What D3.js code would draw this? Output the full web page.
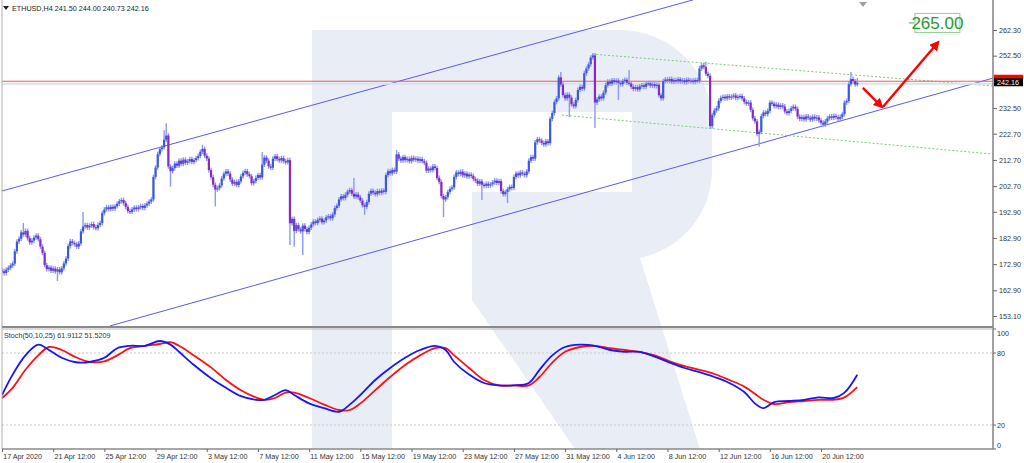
<!DOCTYPE html>
<html><head><meta charset="utf-8">
<script src="https://cdn.jsdelivr.net/npm/d3@7"></script>
<style>
body{margin:0;background:#fff;overflow:hidden}
text{font-family:"Liberation Sans",Arial,sans-serif}
</style>
</head><body>
<svg id="c" width="1024" height="463"></svg>
<script>
// ---------- DATA ----------
const symbolTitle = "ETHUSD,H4  241.50 244.00 240.73 242.16";
const stochTitle = "Stoch(50,10,25) 61.9112 51.5209";
const firstOpen = 170.6;
const closes = [
170.2,169.5,170.8,171.5,172.4,173.1,177.8,181.5,182.6,185.0,184.2,185.6,182.8,181.2,181.9,183.1,183.8,182.4,179.6,177.2,
172.5,171.0,171.6,170.4,171.2,170.1,170.9,169.8,171.3,173.2,175.0,179.8,181.6,181.0,180.5,179.6,180.8,185.4,187.3,187.8,
186.9,187.6,188.2,187.0,186.6,187.9,188.6,192.4,193.8,194.6,193.9,194.8,194.1,195.0,196.0,196.9,197.4,196.2,194.8,193.2,
192.9,193.8,194.5,193.9,194.6,195.1,194.4,195.3,196.0,196.8,197.6,206.2,209.8,214.9,216.8,217.5,220.4,222.0,210.2,208.4,
209.6,211.3,210.5,212.4,211.2,212.8,211.6,212.2,213.0,211.9,212.6,213.4,214.2,215.8,216.9,214.3,213.2,208.8,206.1,203.2,
201.4,201.9,203.0,205.6,207.4,208.3,207.5,205.2,203.6,204.3,203.1,204.5,206.4,207.8,208.4,207.2,206.5,203.8,204.6,205.8,
206.9,206.0,210.9,213.6,212.4,210.2,209.7,213.2,214.1,213.0,212.5,213.4,212.2,211.8,212.6,188.5,190.2,185.6,187.8,186.2,
185.4,187.6,186.3,185.2,186.8,188.1,189.2,188.6,189.8,190.3,188.9,189.6,190.8,191.2,190.4,191.9,194.3,195.2,197.6,198.8,
198.1,199.4,200.6,201.2,199.8,198.7,199.5,198.4,197.2,195.4,194.8,196.6,199.8,200.9,200.2,199.6,200.8,200.1,201.0,200.5,
206.9,208.4,207.6,208.9,208.2,214.8,213.2,212.5,213.8,212.6,213.1,212.2,213.5,212.8,213.2,212.4,213.0,212.2,211.6,208.6,
209.4,208.8,210.2,209.6,205.8,204.3,198.9,197.6,198.5,200.4,201.6,202.2,206.2,207.9,207.3,208.2,206.8,207.5,206.4,207.1,
206.6,205.4,204.8,203.6,204.5,203.2,202.8,203.6,202.9,203.4,204.1,204.8,203.9,204.6,200.8,199.6,200.4,201.5,202.4,202.0,
206.2,207.5,206.8,207.9,207.4,206.9,208.3,212.4,213.8,213.2,219.4,220.6,220.1,219.2,218.6,219.8,219.1,228.4,230.6,234.8,
236.2,244.2,241.5,237.4,236.2,237.6,236.5,233.9,233.2,235.6,239.4,240.6,239.9,245.8,247.6,249.2,251.8,252.6,234.6,235.8,
236.9,236.2,238.4,241.2,242.6,241.8,243.1,242.4,243.0,242.1,241.6,242.8,243.3,242.2,241.9,240.6,239.8,240.5,239.6,240.8,
241.2,240.6,241.8,242.0,241.1,241.6,240.9,241.4,237.4,236.2,242.8,243.4,242.9,243.6,242.6,243.2,242.8,243.5,242.7,243.1,
242.4,243.3,242.8,243.0,242.5,243.2,242.9,247.6,248.8,248.2,245.6,244.8,225.6,229.8,231.6,232.4,235.2,236.4,236.8,236.2,
237.0,236.5,236.9,237.3,236.4,236.8,237.1,236.2,234.8,234.2,234.6,231.8,228.6,227.4,222.6,223.4,229.4,230.8,230.2,231.4,
234.6,234.2,233.2,233.8,232.9,233.5,233.1,231.2,230.6,231.4,232.4,233.0,232.2,229.2,228.4,229.0,228.2,229.3,228.8,228.1,
229.2,228.5,228.9,227.8,226.9,226.2,227.4,228.6,229.3,228.8,229.5,229.0,228.4,229.1,230.2,234.6,235.2,241.6,243.6,242.8,
241.5,242.16
];
// notable wick extremes (bar index -> price)
const highIdx = [10, 38, 76, 77, 94, 122, 165, 185, 262, 277, 294, 330, 398, 401];
const highVal = [188.6, 192.8, 224.0, 226.7, 218.5, 215.7, 205.8, 216.5, 246.3, 253.5, 247.0, 250.2, 246.3, 244.00];
const lowIdx  = [26, 79, 100, 135, 137, 141, 170, 207, 225, 237, 266, 278, 289, 355, 401];
const lowVal  = [166.5, 202.5, 195.0, 180.2, 179.5, 176.4, 191.7, 190.9, 197.4, 196.2, 229.1, 224.9, 235.6, 217.8, 240.73];
const lastPrice = 242.16;

// price axis labels
const priceTicks = [262.30, 252.50, 232.50, 222.70, 212.70, 202.70, 192.90, 182.90, 172.90, 162.90, 153.10];
// time axis (bar index of each label)
const timeTickIdx = [0, 24, 48, 72, 96, 120, 144, 168, 192, 216, 240, 264, 288, 312, 336, 360, 384];
const timeTickLabels = ["17 Apr 2020","21 Apr 12:00","25 Apr 12:00","29 Apr 12:00","3 May 12:00","7 May 12:00",
  "11 May 12:00","15 May 12:00","19 May 12:00","23 May 12:00","27 May 12:00","31 May 12:00","4 Jun 12:00",
  "8 Jun 12:00","12 Jun 12:00","16 Jun 12:00","20 Jun 12:00"];

// stochastic (bar index, %K, %D)
const stochIdx = [0,5,11,17,22,28,34,41,48,54,60,67,74,79,83,90,98,105,112,119,123,128,133,137,144,151,158,163,168,175,182,189,196,203,208,212,219,226,233,240,247,252,258,264,271,278,285,292,299,306,313,320,327,334,341,348,353,357,362,369,376,383,390,395,401];
const stochK = [45,62,78,87,82.5,76,72.5,72.5,76,84,86,86,90,87,81,70,59,51,44,41,41,45,49,45,38,34,31,37,45,57.5,67.5,76,82.5,86,82.5,72.5,62,55,53,53,55,66,78,85,87,86,82.5,81,81,77,72,67.5,64,60,55,47.5,38,34,39,40,41,43,42.5,47,61.9112];
const stochD = [42.5,51,66,78,85,82.5,77,72.5,73,78,84,86,87.5,89,86,78,68,57.5,49,43,41,42.5,47,47,42.5,37,32.5,32.5,38,49,60,70,78,84,84,78,67.5,57.5,53,53,53,60,72,81,85,86,84,82.5,81,78,73,69,66,62.5,57.5,52,46,41,37.5,39,40,41,41,43,51.5209];
const stochLevels = [80, 20];
const stochLabels = [100, 80, 20, 0];

// drawn objects (bar index, price)
const channelUpper = [[-1, 200.6], [324, 273.8]];
const channelLower = [[50.6, 149.3], [465, 244.0]];
const greenUpper = [[276.6, 253.1], [465, 240.9]];
const greenLower = [[262.5, 229.8], [465, 214.9]];
const arrowDown = [[403.6, 240.2], [412.6, 232.9]];
const arrowUp = [[413.0, 232.9], [439.0, 257.7]];
const targetPrice = 265.00;
const targetIdx = 428;

// ---------- CHART ----------
const svg = d3.select('#c');
const L = 2, R = 993, mTop = 0, mBot = 327, sTop = 329, sBot = 449;
const x = d3.scaleLinear().domain([0, 401]).range([2, 857.3]);
const y = d3.scaleLinear().domain([153.1, 262.3]).range([316, 30]);
const ys = d3.scaleLinear().domain([0, 100]).range([449, 329]);

const defs = svg.append('defs');
defs.append('clipPath').attr('id','cm').append('rect').attr('x',L).attr('y',mTop).attr('width',R-L).attr('height',mBot-mTop);
defs.append('clipPath').attr('id','cs').append('rect').attr('x',L).attr('y',sTop).attr('width',R-L).attr('height',sBot-sTop);
defs.append('marker').attr('id','ah').attr('viewBox','0 0 10 10').attr('refX',8).attr('refY',5)
  .attr('markerWidth',4.2).attr('markerHeight',4.2).attr('orient','auto')
  .append('path').attr('d','M0,0 L10,5 L0,10 Z').attr('fill','#ff0000');

// watermark "R"
const wm = svg.append('g').attr('fill','#e9eef6');
wm.append('rect').attr('x',312).attr('y',30).attr('width',80).attr('height',419);
wm.append('path').attr('d','M392,30 H620 A92,92 0 0 1 712,122 V170 A90,90 0 0 1 640,258 L700,449 H575 L472,300 V192 H632 V112 H392 Z');

// main panel
const gm = svg.append('g').attr('clip-path','url(#cm)');
const lineFn = d3.line().x(d => x(d[0])).y(d => y(d[1]));
gm.append('path').attr('d', lineFn(channelUpper)).attr('stroke','#5a5aee').attr('stroke-width',1).attr('fill','none');
gm.append('path').attr('d', lineFn(channelLower)).attr('stroke','#5a5aee').attr('stroke-width',1).attr('fill','none');
gm.append('path').attr('d', lineFn(greenUpper)).attr('stroke','#7cc87c').attr('stroke-width',1).attr('stroke-dasharray','2,2').attr('fill','none');
gm.append('path').attr('d', lineFn(greenLower)).attr('stroke','#7cc87c').attr('stroke-width',1).attr('stroke-dasharray','2,2').attr('fill','none');

// ask/bid lines
gm.append('line').attr('x1',L).attr('x2',R).attr('y1',y(lastPrice)+1).attr('y2',y(lastPrice)+1).attr('stroke','#dde1e8').attr('stroke-width',2);
gm.append('line').attr('x1',L).attr('x2',R).attr('y1',y(lastPrice)-1.5).attr('y2',y(lastPrice)-1.5).attr('stroke','#ff5050').attr('stroke-width',1);

// candles
const candles = closes.map((c, i) => {
  const o = i === 0 ? firstOpen : closes[i-1];
  let h = Math.max(o, c) + 0.9, l = Math.min(o, c) - 0.9;
  const hi = highIdx.indexOf(i); if (hi >= 0) h = highVal[hi];
  const li = lowIdx.indexOf(i); if (li >= 0) l = lowVal[li];
  return {i, o, h, l, c};
});
const cg = gm.append('g');
cg.selectAll('line.w').data(candles).join('line').attr('class','w')
  .attr('x1', d => x(d.i)).attr('x2', d => x(d.i))
  .attr('y1', d => y(d.h)).attr('y2', d => y(d.l))
  .attr('stroke', '#8c98f2').attr('stroke-width', 1.4);
cg.selectAll('rect.b').data(candles).join('rect').attr('class','b')
  .attr('x', d => x(d.i) - 1.1).attr('width', 2.2)
  .attr('y', d => y(Math.max(d.o, d.c)))
  .attr('height', d => Math.max(1.2, Math.abs(y(d.o) - y(d.c))))
  .attr('fill', d => d.c >= d.o ? '#3a5ada' : '#8a28c2');

// arrows
svg.append('path').attr('d', lineFn(arrowDown)).attr('stroke','#ff0000').attr('stroke-width',2.4).attr('fill','none').attr('marker-end','url(#ah)');
svg.append('path').attr('d', lineFn(arrowUp)).attr('stroke','#ff0000').attr('stroke-width',2.4).attr('fill','none').attr('marker-end','url(#ah)');

// target label
const ty = y(targetPrice), tx = x(targetIdx);
svg.append('line').attr('x1', tx-6).attr('x2', tx-1).attr('y1', ty).attr('y2', ty).attr('stroke','#4caf50').attr('stroke-width',1);
svg.append('rect').attr('x', tx).attr('y', ty-9.5).attr('width', 45).attr('height', 19).attr('fill','#fff').attr('stroke','#8fd08f').attr('stroke-width',1);
svg.append('text').attr('x', tx+22.5).attr('y', ty+6).attr('text-anchor','middle').attr('font-size',17).attr('fill','#2a9a2a').text(targetPrice.toFixed(2));

// chart shift marker
svg.append('path').attr('d','M859,2 L867,2 L863,7 Z').attr('fill','#a0a0a0');

// stochastic panel
const gs = svg.append('g').attr('clip-path','url(#cs)');
stochLevels.forEach(v => {
  gs.append('line').attr('x1',L).attr('x2',R).attr('y1',ys(v)).attr('y2',ys(v)).attr('stroke','#c8c8c8').attr('stroke-dasharray','2,2');
});
const sLine = arr => d3.line().x((d, k) => x(stochIdx[k])).y(d => ys(d)).curve(d3.curveCatmullRom)(arr);
gs.append('path').attr('d', sLine(stochD)).attr('stroke','#ff1010').attr('stroke-width',1.8).attr('fill','none');
gs.append('path').attr('d', sLine(stochK)).attr('stroke','#1515ff').attr('stroke-width',1.8).attr('fill','none');

// frames
const fr = svg.append('g').attr('fill','none').attr('stroke','#8a8a8a');
fr.append('line').attr('x1',L).attr('x2',L).attr('y1',0).attr('y2',sBot).attr('stroke','#b0b0b0');
fr.append('line').attr('x1',R).attr('x2',R).attr('y1',0).attr('y2',sBot).attr('stroke-width',1.6);
fr.append('line').attr('x1',L).attr('x2',R).attr('y1',mBot).attr('y2',mBot).attr('stroke-width',2);
fr.append('line').attr('x1',L).attr('x2',R).attr('y1',sTop).attr('y2',sTop).attr('stroke','#b8b8b8');
fr.append('line').attr('x1',L).attr('x2',R).attr('y1',sBot).attr('y2',sBot).attr('stroke-width',1.6);

// price axis
const ya = svg.append('g').attr('transform',`translate(${R},0)`)
  .call(d3.axisRight(y).tickValues(priceTicks).tickFormat(d3.format('.2f')).tickSize(4).tickPadding(2));
ya.select('.domain').remove();
ya.selectAll('line').attr('stroke','#666');
ya.selectAll('text').attr('font-size',7.2).attr('fill','#333').attr('font-family','Liberation Sans, Arial, sans-serif');

// last price tag
const ly = y(lastPrice) - 1;
svg.append('rect').attr('x', R+1).attr('y', ly-7).attr('width', 29).attr('height', 6).attr('fill','#ff0000');
svg.append('rect').attr('x', R+1).attr('y', ly-3.5).attr('width', 29).attr('height', 8).attr('fill','#000');
svg.append('text').attr('x', R+4).attr('y', ly+3).attr('font-size',7.2).attr('fill','#fff').text(lastPrice.toFixed(2));

// stoch axis
stochLabels.forEach(v => {
  const py = Math.min(sBot-4, Math.max(sTop+4, ys(v)));
  svg.append('line').attr('x1',R).attr('x2',R+3).attr('y1',ys(v)).attr('y2',ys(v)).attr('stroke','#666');
  svg.append('text').attr('x',R+4).attr('y',py+2.5).attr('font-size',7.2).attr('fill','#333').text(v);
});

// time axis
const xa = svg.append('g').attr('transform',`translate(0,${sBot})`)
  .call(d3.axisBottom(x).tickValues(timeTickIdx).tickFormat((d, k) => timeTickLabels[k]).tickSize(3).tickPadding(2));
xa.select('.domain').remove();
xa.selectAll('line').attr('stroke','#666');
xa.selectAll('text').attr('font-size',7.2).attr('fill','#333').attr('text-anchor','start').attr('dx','0.1em')
  .attr('font-family','Liberation Sans, Arial, sans-serif');

// titles
svg.append('path').attr('d','M3,6 L9,6 L6,10 Z').attr('fill','#222');
svg.append('text').attr('x',12).attr('y',11).attr('font-size',7.2).attr('fill','#222').text(symbolTitle);
svg.append('text').attr('x',4).attr('y',338).attr('font-size',7.2).attr('fill','#333').text(stochTitle);
</script>
</body></html>
